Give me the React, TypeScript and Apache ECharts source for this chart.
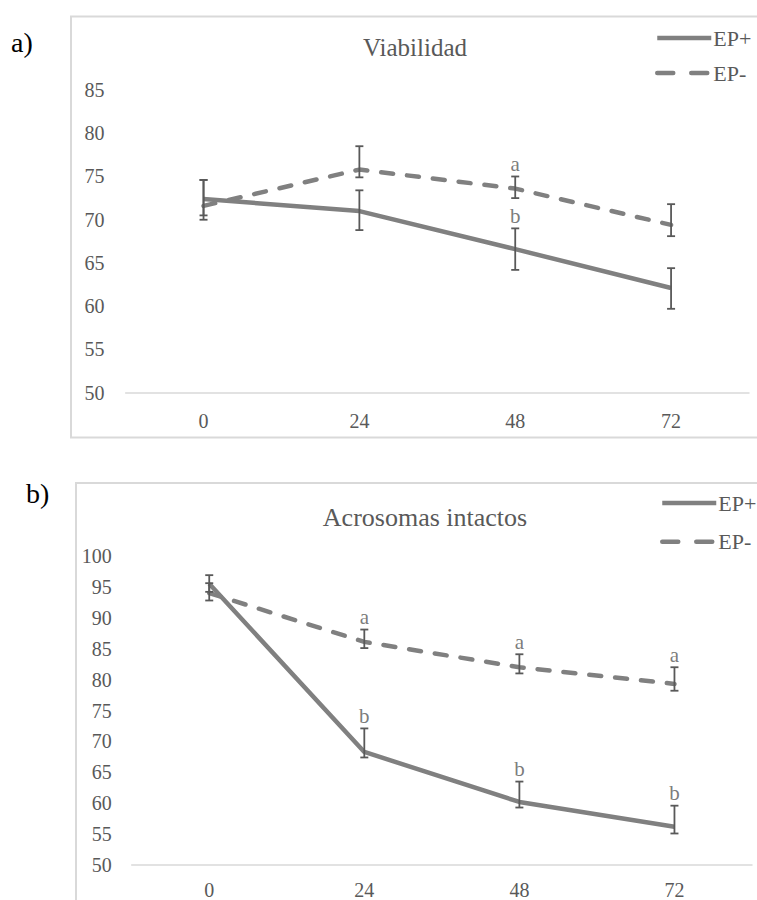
import React, { useEffect, useRef } from "react";
import * as echarts from "echarts";

const categories = ["0", "24", "48", "72"];
const yTicksA = ["50", "55", "60", "65", "70", "75", "80", "85"];
const yTicksB = ["50", "55", "60", "65", "70", "75", "80", "85", "90", "95", "100"];

// a) Viabilidad
const viabEPplus = [72.4, 71.0, 66.6, 62.1];
const viabEPplusLow = [70.0, 68.8, 64.2, 59.7];
const viabEPplusHigh = [74.6, 73.4, 69.0, 64.4];
const viabEPminus = [71.6, 75.8, 73.6, 69.4];
const viabEPminusLow = [70.5, 74.9, 72.5, 68.1];
const viabEPminusHigh = [74.6, 78.5, 75.0, 71.8];
const viabLettersPlus = ["", "", "b", ""];
const viabLettersMinus = ["", "", "a", ""];

// b) Acrosomas intactos
const acroEPplus = [95.5, 68.3, 60.2, 56.2];
const acroEPplusLow = [94.2, 67.4, 59.3, 55.1];
const acroEPplusHigh = [96.9, 72.1, 63.5, 59.6];
const acroEPminus = [94.0, 86.1, 82.0, 79.3];
const acroEPminusLow = [92.8, 85.1, 81.0, 78.2];
const acroEPminusHigh = [95.6, 88.1, 84.1, 82.0];
const acroLettersPlus = ["", "b", "b", "b"];
const acroLettersMinus = ["", "a", "a", "a"];

const FONT = "Liberation Serif, Times New Roman, serif";
const TEXT = "#595959";
const LINE = "#808080";
const ERR = "#595959";
const AXIS = "#d9d9d9";

function errData(low: number[], high: number[]) {
  return low.map((l, i) => [i, l, high[i]]);
}
function letterData(high: number[], letters: string[]) {
  return high.map((h, i) => ({ value: [i, h], letter: letters[i] }));
}

const errRender = (params: any, api: any) => {
  const x = api.value(0);
  const lo = api.coord([x, api.value(1)]);
  const hi = api.coord([x, api.value(2)]);
  const hw = 4;
  const style = { stroke: ERR, lineWidth: 1.8 };
  return {
    type: "group",
    children: [
      { type: "line", shape: { x1: hi[0], y1: hi[1], x2: lo[0], y2: lo[1] }, style },
      { type: "line", shape: { x1: hi[0] - hw, y1: hi[1], x2: hi[0] + hw, y2: hi[1] }, style },
      { type: "line", shape: { x1: lo[0] - hw, y1: lo[1], x2: lo[0] + hw, y2: lo[1] }, style },
    ],
  };
};

function panelSeries(idx: number, plus: number[], minus: number[], pl: number[], ph: number[], ml: number[], mh: number[], lp: string[], lm: string[]) {
  const letterSeries = (data: any[]) => ({
    type: "scatter",
    xAxisIndex: idx,
    yAxisIndex: idx,
    symbolSize: 0,
    silent: true,
    z: 5,
    data,
    label: {
      show: true,
      position: "top",
      distance: 2,
      formatter: (p: any) => p.data.letter,
      fontFamily: FONT,
      fontSize: 21,
      color: TEXT,
    },
  });
  return [
    {
      name: "EP+",
      type: "line",
      xAxisIndex: idx,
      yAxisIndex: idx,
      data: plus,
      symbol: "none",
      showSymbol: false,
      z: 2,
      lineStyle: { color: LINE, width: 4.5, type: "solid" },
      itemStyle: { color: LINE },
    },
    {
      name: "EP-",
      type: "line",
      xAxisIndex: idx,
      yAxisIndex: idx,
      data: minus,
      symbol: "none",
      showSymbol: false,
      z: 2,
      lineStyle: { color: LINE, width: 4.5, type: [12, 14], cap: "round" },
      itemStyle: { color: LINE },
    },
    {
      type: "custom",
      xAxisIndex: idx,
      yAxisIndex: idx,
      renderItem: errRender,
      encode: { x: 0, y: [1, 2] },
      data: errData(pl, ph),
      z: 4,
      silent: true,
    },
    {
      type: "custom",
      xAxisIndex: idx,
      yAxisIndex: idx,
      renderItem: errRender,
      encode: { x: 0, y: [1, 2] },
      data: errData(ml, mh),
      z: 4,
      silent: true,
    },
    letterSeries(letterData(ph, lp)),
    letterSeries(letterData(mh, lm)),
  ];
}

export default function App() {
  const ref = useRef<HTMLDivElement>(null);
  useEffect(() => {
    if (!ref.current) return;
    const chart = echarts.init(ref.current, null, { renderer: "svg" });
    const axisLabel = { fontFamily: FONT, fontSize: 20, color: TEXT };
    const legendBase = {
      orient: "vertical",
      itemWidth: 54,
      itemHeight: 14,
      data: [
        { name: "EP+", lineStyle: { width: 4.5, type: "solid" } },
        { name: "EP-", lineStyle: { width: 4.5, type: [16, 18], cap: "round" } },
      ],
      itemStyle: { opacity: 0 },
      lineStyle: { width: 4.5 },
      textStyle: { fontFamily: FONT, fontSize: 22, color: TEXT, lineHeight: 22, padding: [0, 0, 0, -3] },
      selectedMode: false,
    };
    chart.setOption({
      animation: false,
      backgroundColor: "#ffffff",
      grid: [
        { left: 125.6, right: 8, top: 90, bottom: 900 - 392.7 },
        { left: 131.7, right: 5, top: 556, bottom: 35 },
      ],
      xAxis: [0, 1].map((i) => ({
        type: "category",
        gridIndex: i,
        data: categories,
        boundaryGap: true,
        axisLine: { show: true, lineStyle: { color: AXIS, width: 1.5 } },
        axisTick: { show: false },
        splitLine: { show: false },
        axisLabel: { ...axisLabel, margin: i === 0 ? 18 : 15 },
      })),
      yAxis: [
        {
          type: "value",
          gridIndex: 0,
          min: Number(yTicksA[0]),
          max: Number(yTicksA[yTicksA.length - 1]),
          interval: 5,
          axisLine: { show: false },
          axisTick: { show: false },
          splitLine: { show: false },
          axisLabel: { ...axisLabel, margin: 21 },
        },
        {
          type: "value",
          gridIndex: 1,
          min: Number(yTicksB[0]),
          max: Number(yTicksB[yTicksB.length - 1]),
          interval: 5,
          axisLine: { show: false },
          axisTick: { show: false },
          splitLine: { show: false },
          axisLabel: { ...axisLabel, margin: 20 },
        },
      ],
      legend: [
        { ...legendBase, left: 650, top: 22, itemGap: 13 },
        { ...legendBase, left: 655, top: 487, itemGap: 16.7 },
      ],
      graphic: [
        {
          type: "rect",
          shape: { x: 71, y: 16.5, width: 700, height: 421 },
          style: { fill: "none", stroke: AXIS, lineWidth: 2 },
          z: -1,
          silent: true,
        },
        {
          type: "rect",
          shape: { x: 76, y: 483, width: 700, height: 450 },
          style: { fill: "none", stroke: AXIS, lineWidth: 2 },
          z: -1,
          silent: true,
        },
        {
          type: "text",
          x: 11,
          y: 56,
          style: { text: "a)", fontFamily: FONT, fontSize: 28, fill: "#000000", textAlign: "left", textVerticalAlign: "bottom" },
        },
        {
          type: "text",
          x: 26,
          y: 507,
          style: { text: "b)", fontFamily: FONT, fontSize: 28, fill: "#000000", textAlign: "left", textVerticalAlign: "bottom" },
        },
        {
          type: "text",
          x: 415,
          y: 47,
          style: { text: "Viabilidad", fontFamily: FONT, fontSize: 25, fill: TEXT, textAlign: "center", textVerticalAlign: "middle" },
        },
        {
          type: "text",
          x: 425,
          y: 517,
          style: { text: "Acrosomas intactos", fontFamily: FONT, fontSize: 26, fill: TEXT, textAlign: "center", textVerticalAlign: "middle" },
        },
      ],
      series: [
        ...panelSeries(0, viabEPplus, viabEPminus, viabEPplusLow, viabEPplusHigh, viabEPminusLow, viabEPminusHigh, viabLettersPlus, viabLettersMinus),
        ...panelSeries(1, acroEPplus, acroEPminus, acroEPplusLow, acroEPplusHigh, acroEPminusLow, acroEPminusHigh, acroLettersPlus, acroLettersMinus),
      ],
    });
    return () => chart.dispose();
  }, []);
  return (
    <div
      ref={ref}
      style={{ position: "absolute", left: 0, top: 0, width: 757, height: 900, background: "#fff" }}
    />
  );
}
